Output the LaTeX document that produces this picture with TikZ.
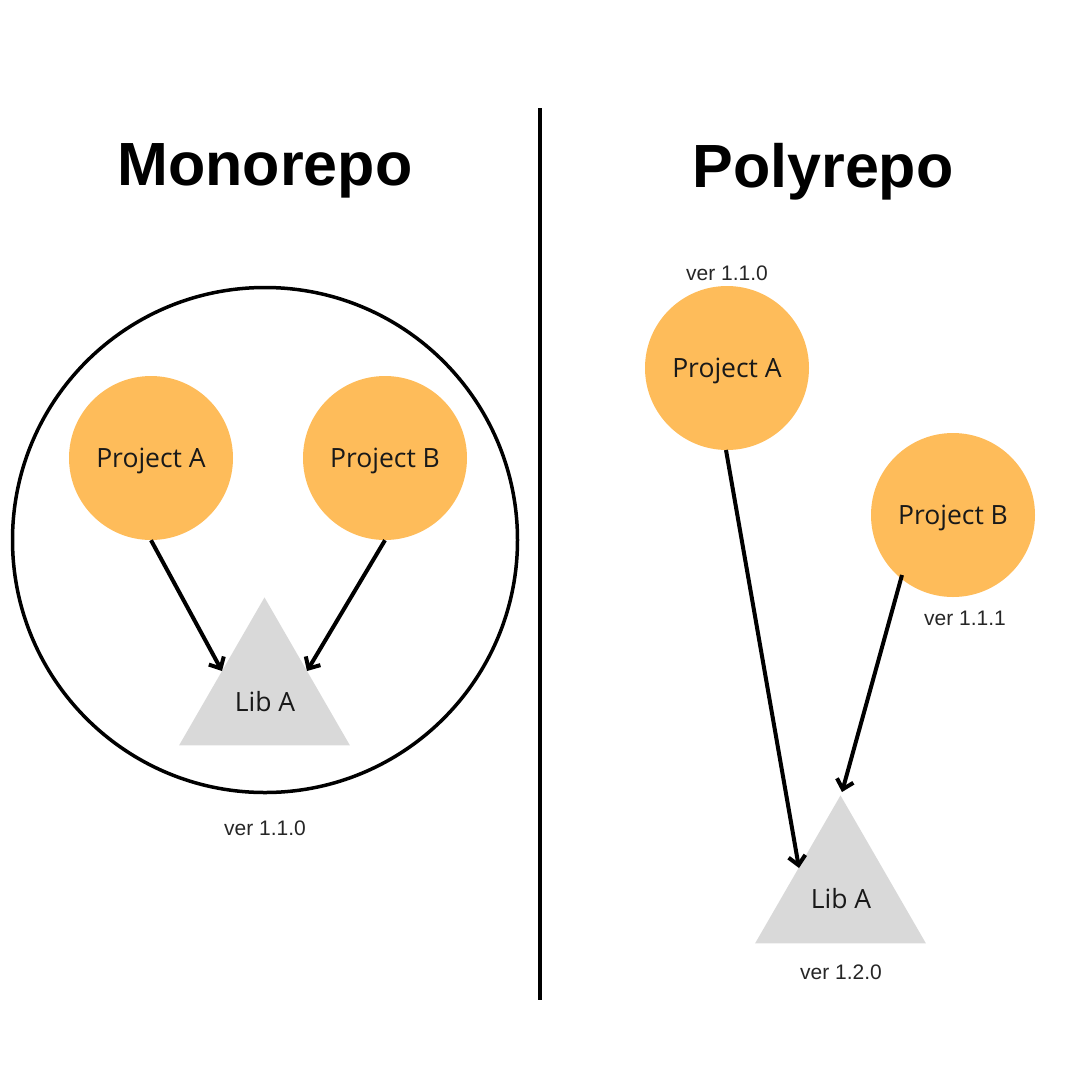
\documentclass[tikz,border=0pt]{standalone}
\usepackage{fontspec}
\setmainfont{Open Sans}
\newfontfamily\titlefont{Liberation Sans}
\newfontfamily\verfont{Liberation Sans}
\usetikzlibrary{arrows.meta,shapes.geometric}
\definecolor{proj}{HTML}{FEBC5A}
\definecolor{lib}{HTML}{D9D9D9}
\tikzset{
  projnode/.style={circle,fill=proj,minimum size=164pt,inner sep=0pt,text depth=0pt,font=\fontsize{26.5pt}{30pt}\selectfont,text=black!90},
  libnode/.style={isosceles triangle,isosceles triangle apex angle=60,shape border rotate=90,fill=lib,inner sep=0pt,minimum height=148pt,minimum width=170pt},
  libtext/.style={text depth=0pt,font=\fontsize{26.5pt}{30pt}\selectfont,text=black!90},
  vertext/.style={text depth=0pt,font=\verfont\fontsize{21pt}{24pt}\selectfont,text=black!85},
  titletext/.style={text depth=0pt,font=\titlefont\bfseries\fontsize{61pt}{70pt}\selectfont},
  dep/.style={line width=4pt,-{Straight Barb[length=9pt,width=17pt,line width=4pt]}},
}
\begin{document}
\begin{tikzpicture}[x=1pt,y=-1pt]
\useasboundingbox (0,0) rectangle (1080,1080);
% divider
\coordinate (dtop) at (540,108);
\coordinate (dbot) at (540,1000);
\draw[line width=4pt] (dtop) -- (dbot);
% titles
\node[titletext] (tmono) at (265,165) {Monorepo};
\node[titletext] (tpoly) at (823,165) {Polyrepo};
% monorepo
\node[circle,draw,line width=3.5pt,minimum size=505pt,inner sep=0pt] (repo) at (265,540) {};
\node[projnode] (mA) at (151,458) {Project A};
\node[projnode] (mB) at (385,458) {Project B};
\node[libnode,anchor=apex] (mL) at (264.5,597) {};
\node[libtext] (mLt) at (265,701) {Lib A};
\node[vertext] (mv) at (265,828) {ver 1.1.0};
\coordinate (mAe) at (222,671);
\coordinate (mBe) at (307,671);
\draw[dep] (mA.south) -- (mAe);
\draw[dep] (mB.south) -- (mBe);
% polyrepo
\node[projnode] (pA) at (727,368) {Project A};
\node[vertext] (pAv) at (727,273) {ver 1.1.0};
\node[projnode] (pB) at (953,515) {Project B};
\node[vertext] (pBv) at (965,618) {ver 1.1.1};
\node[libnode,anchor=apex] (pL) at (840.5,795) {};
\node[libtext] (pLt) at (841,898) {Lib A};
\node[vertext] (pLv) at (841,972) {ver 1.2.0};
\coordinate (pAs) at (726,450);
\coordinate (pAe) at (799,868);
\coordinate (pBs) at (902,575);
\coordinate (pBe) at (842,792);
\draw[dep] (pAs) -- (pAe);
\draw[dep] (pBs) -- (pBe);
\end{tikzpicture}
\end{document}
